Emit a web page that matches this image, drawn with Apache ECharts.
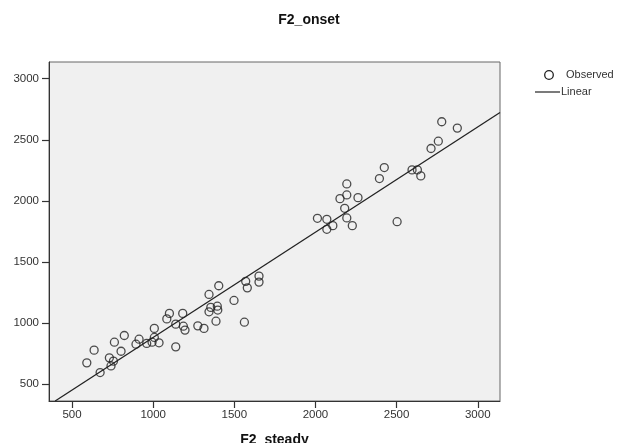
<!DOCTYPE html>
<html>
<head>
<meta charset="utf-8">
<script src="https://cdn.jsdelivr.net/npm/echarts@6/dist/echarts.min.js"></script>
<style>
html,body{margin:0;padding:0;background:#fff;}
#c{width:618px;height:443px;}
</style>
</head>
<body>
<div id="c"></div>
<script>
// Observed points: F2_steady (x) and F2_onset (y)
const steadyX = [591, 636, 673, 730, 755, 740, 761, 802, 822, 894, 913, 960, 993, 1007, 1007, 1036,
  1084, 1100, 1139, 1139, 1182, 1186, 1196, 1275, 1313, 1344, 1344, 1355, 1387, 1395, 1398, 1404,
  1498, 1562, 1570, 1580, 1652, 1652,
  2012, 2070, 2070, 2107, 2151, 2180, 2193, 2193, 2193, 2227, 2262, 2394, 2424, 2503, 2595, 2628,
  2649, 2712, 2757, 2778, 2874];
const onsetY = [675, 779, 596, 716, 689, 650, 844, 770, 899, 828, 869, 834, 844, 883, 957, 839,
  1035, 1080, 992, 806, 1080, 975, 943, 978, 957, 1235, 1093, 1129, 1016, 1139, 1107, 1306,
  1186, 1008, 1342, 1289, 1385, 1336,
  1858, 1850, 1768, 1798, 2019, 1940, 2139, 2049, 1861, 1798, 2027, 2183, 2273, 1830, 2254, 2254,
  2205, 2429, 2489, 2648, 2596];
// Linear fit line endpoints
const linearX = [396, 3137];
const linearY = [363, 2724];
// Axis ticks
const xTicks = [500, 1000, 1500, 2000, 2500, 3000];
const yTicks = [500, 1000, 1500, 2000, 2500, 3000];
const xRange = [358, 3137];
const yRange = [363, 3137];

const observed = steadyX.map((x, i) => [x, onsetY[i]]);
const linear = linearX.map((x, i) => [x, linearY[i]]);

const font = 'Liberation Sans, Arial, sans-serif';
const chart = echarts.init(document.getElementById('c'));
const plain = v => String(v);
const axisCommon = {
  type: 'value',
  splitLine: {show: false},
  axisLine: {show: true, onZero: false, lineStyle: {color: '#333', width: 1}},
  axisTick: {show: true, length: 7, lineStyle: {color: '#333', width: 1.2}},
};
chart.setOption({
  animation: false,
  title: {
    text: 'F2_onset', left: 'center', top: 8,
    textStyle: {fontFamily: font, fontWeight: 'bold', fontSize: 14, color: '#111'}
  },
  grid: {
    left: 49, right: 118, top: 62, bottom: 42,
    outerBoundsMode: 'none', containLabel: false,
    show: true, backgroundColor: '#f0f0f0', borderColor: '#666', borderWidth: 1
  },
  xAxis: Object.assign({}, axisCommon, {
    min: xRange[0], max: xRange[1],
    name: 'F2_steady', nameLocation: 'middle', nameGap: 32,
    nameTextStyle: {fontFamily: font, fontWeight: 'bold', fontSize: 14, color: '#111'},
    axisTick: Object.assign({}, axisCommon.axisTick, {customValues: xTicks}),
    axisLabel: {customValues: xTicks, formatter: plain, margin: 8, fontFamily: font, fontSize: 11.5, color: '#333'}
  }),
  yAxis: Object.assign({}, axisCommon, {
    min: yRange[0], max: yRange[1],
    axisTick: Object.assign({}, axisCommon.axisTick, {customValues: yTicks}),
    axisLabel: {customValues: yTicks, formatter: plain, margin: 10, fontFamily: font, fontSize: 11.5, color: '#333'}
  }),
  series: [
    {
      name: 'Linear', type: 'line', data: linear, symbol: 'none', clip: true,
      lineStyle: {color: '#222', width: 1.3}, z: 2
    },
    {
      name: 'Observed', type: 'scatter', data: observed, symbol: 'circle', symbolSize: 8,
      itemStyle: {color: 'rgba(0,0,0,0)', borderColor: '#222', borderWidth: 1.3}, z: 3
    }
  ],
  graphic: [
    {type: 'circle', shape: {cx: 549, cy: 75, r: 4.3}, style: {fill: 'none', stroke: '#222', lineWidth: 1.3}},
    {type: 'text', x: 566, y: 75, style: {text: 'Observed', fontFamily: font, fontSize: 11, fill: '#333', verticalAlign: 'middle'}},
    {type: 'line', shape: {x1: 535, y1: 92, x2: 560, y2: 92}, style: {stroke: '#222', lineWidth: 1.2}},
    {type: 'text', x: 561, y: 92, style: {text: 'Linear', fontFamily: font, fontSize: 11, fill: '#333', verticalAlign: 'middle'}}
  ]
});
</script>
</body>
</html>
